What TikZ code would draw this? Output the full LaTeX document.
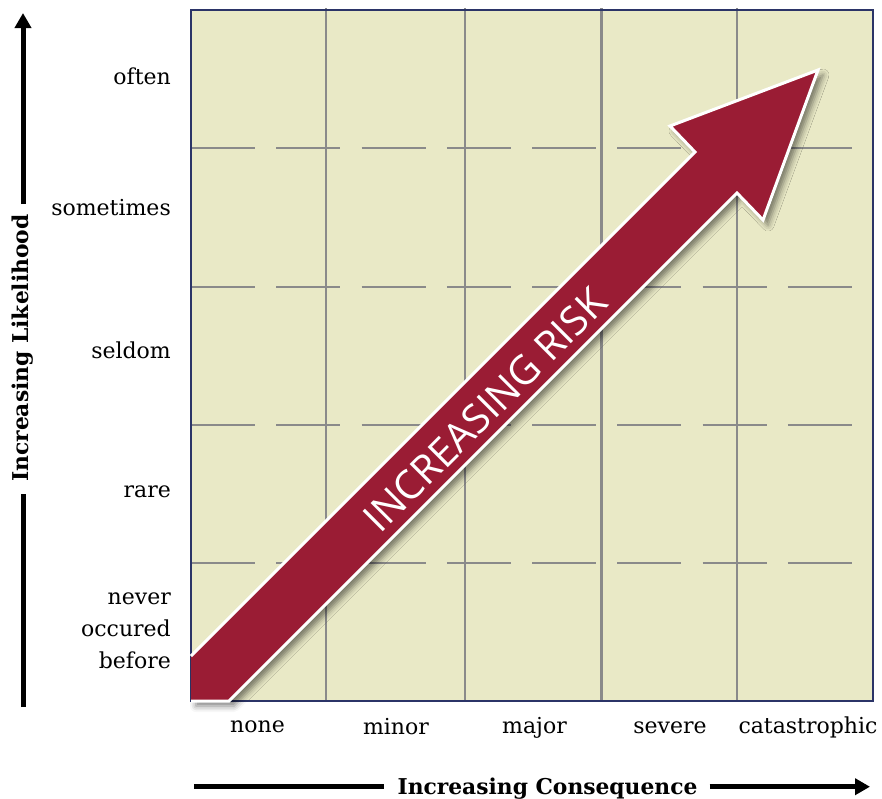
\documentclass[tikz,border=0pt]{standalone}
\usepackage{fontspec}
\setmainfont{DejaVu Serif}
\newfontfamily\riskfont{Open Sans}
\usetikzlibrary{shadows.blur,arrows.meta}
\definecolor{gridfill}{HTML}{E9E9C6}
\definecolor{riskred}{HTML}{9A1C34}
\definecolor{framenavy}{HTML}{2B3467}
\definecolor{gridgray}{HTML}{8A8A8A}
\begin{document}
\begin{tikzpicture}[x=1pt,y=-1pt,
  lbl/.style={font=\fontsize{22}{26}\selectfont, inner sep=0pt},
  axlbl/.style={font=\fontsize{21.8}{24}\selectfont\bfseries, inner sep=0pt},
  gridv/.style={draw=gridgray, line width=2.2pt},
  gridh/.style={draw=gridgray, line width=2.2pt, dash pattern=on 64pt off 21.25pt},
  axisline/.style={line width=5pt, black},
  axishead/.style={-{Triangle[width=16pt,length=15pt]}},
  riskarrow/.style={fill=riskred, blur shadow={shadow xshift=5pt, shadow yshift=-5pt, shadow blur radius=6pt, shadow opacity=50}},
  riskedge/.style={draw=white, line width=3pt, line join=miter},
]
\useasboundingbox (0,0) rectangle (882,798);
% grid
\fill[gridfill] (191,10) rectangle (873,701);
\foreach \x in {326,465,601.5,737} \draw[gridv] (\x,8) -- (\x,701);
\foreach \y in {148.2,286.6,424.6,562.9} \draw[gridh] (191,\y) -- (873,\y);
\draw[framenavy, line width=1.6pt] (191,10) rectangle (873,701);
% big arrow
\path[riskarrow] (191,656) -- (695,152) -- (670,126) -- (818,70) -- (763,220) -- (737,193) -- (229,701) -- (191,701) -- cycle;
\draw[riskedge] (191,656) -- (695,152) -- (670,126) -- (818,70) -- (763,220) -- (737,193) -- (229,701) -- (191,701);
\node[rotate=45, text=white, inner sep=0pt, font=\riskfont\fontsize{40}{40}\selectfont] (risk) at (485,410) {INCREASING RISK};
% likelihood labels
\node[lbl, anchor=base east] (often) at (171,84) {often};
\node[lbl, anchor=base east] (sometimes) at (171,215) {sometimes};
\node[lbl, anchor=base east] (seldom) at (171,358) {seldom};
\node[lbl, anchor=base east] (rare) at (171,497) {rare};
\node[lbl, anchor=base east] (never) at (171,604) {never};
\node[lbl, anchor=base east] (occured) at (171,636) {occured};
\node[lbl, anchor=base east] (before) at (171,668) {before};
% consequence labels
\node[lbl, anchor=base] (none) at (257.5,732) {none};
\node[lbl, anchor=base] (minor) at (396,734) {minor};
\node[lbl, anchor=base] (major) at (534.5,733) {major};
\node[lbl, anchor=base] (severe) at (670,733) {severe};
\node[lbl, anchor=base] (catastrophic) at (808,733) {catastrophic};
% axes
\node[axlbl, rotate=90] (likely) at (23,348) {Increasing Likelihood};
\coordinate (lb) at (23,707);
\coordinate (lt) at (23,13);
\draw[axisline, shorten >=12pt] (lb) -- (lb |- likely.west);
\draw[axisline, axishead, shorten <=10pt] (lt |- likely.east) -- (lt);
\node[axlbl, anchor=base] (conseq) at (547.5,794) {Increasing Consequence};
\coordinate (cl) at (194,786.7);
\coordinate (cr) at (870,786.7);
\draw[axisline, shorten >=13pt] (cl) -- (cl -| conseq.west);
\draw[axisline, axishead, shorten <=12pt] (cr -| conseq.east) -- (cr);
\end{tikzpicture}
\end{document}
